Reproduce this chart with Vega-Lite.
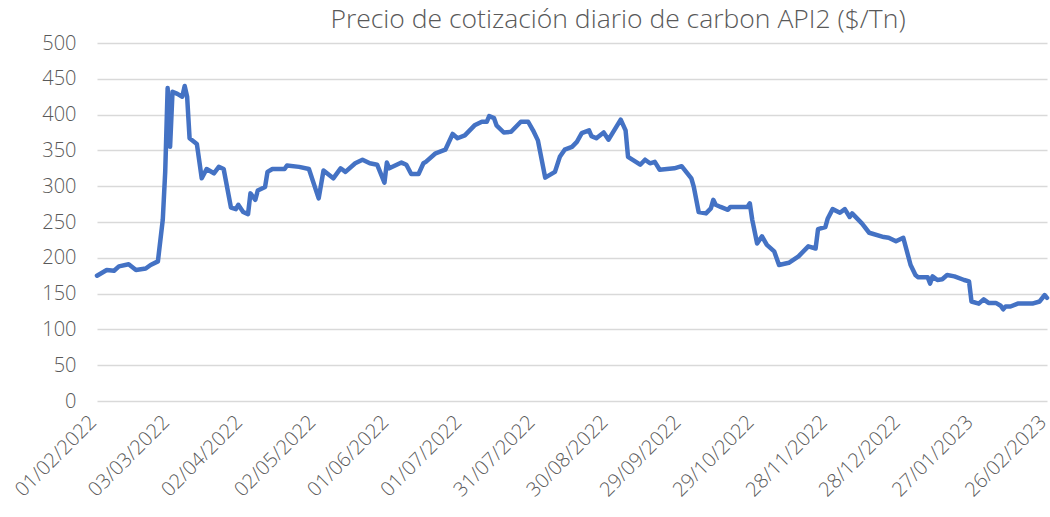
{
  "$schema": "https://vega.github.io/schema/vega-lite/v6.json",
  "width": 950,
  "height": 358,
  "autosize": {"type": "none"},
  "padding": {"left": 97, "top": 43, "right": 3, "bottom": 116},
  "background": "white",
  "title": {
    "text": "Precio de cotización diario de carbon API2 ($/Tn)",
    "fontSize": 26.5,
    "font": "Open Sans",
    "fontWeight": 300,
    "color": "#595959",
    "anchor": "middle",
    "dx": 46,
    "offset": 0
  },
  "data": {
    "values": [
      {"fecha": "2022-02-01", "precio": 175},
      {"fecha": "2022-02-05", "precio": 183},
      {"fecha": "2022-02-08", "precio": 182},
      {"fecha": "2022-02-10", "precio": 188},
      {"fecha": "2022-02-14", "precio": 191},
      {"fecha": "2022-02-17", "precio": 183},
      {"fecha": "2022-02-21", "precio": 185},
      {"fecha": "2022-02-23", "precio": 190},
      {"fecha": "2022-02-26", "precio": 195},
      {"fecha": "2022-02-28", "precio": 253},
      {"fecha": "2022-03-01", "precio": 320},
      {"fecha": "2022-03-02", "precio": 437},
      {"fecha": "2022-03-03", "precio": 355},
      {"fecha": "2022-03-04", "precio": 432},
      {"fecha": "2022-03-06", "precio": 429},
      {"fecha": "2022-03-08", "precio": 425},
      {"fecha": "2022-03-09", "precio": 440},
      {"fecha": "2022-03-10", "precio": 425},
      {"fecha": "2022-03-11", "precio": 367},
      {"fecha": "2022-03-14", "precio": 359},
      {"fecha": "2022-03-16", "precio": 311},
      {"fecha": "2022-03-18", "precio": 324},
      {"fecha": "2022-03-21", "precio": 318},
      {"fecha": "2022-03-23", "precio": 327},
      {"fecha": "2022-03-25", "precio": 324},
      {"fecha": "2022-03-28", "precio": 270},
      {"fecha": "2022-03-30", "precio": 268},
      {"fecha": "2022-03-31", "precio": 274},
      {"fecha": "2022-04-02", "precio": 264},
      {"fecha": "2022-04-04", "precio": 261},
      {"fecha": "2022-04-05", "precio": 290},
      {"fecha": "2022-04-07", "precio": 281},
      {"fecha": "2022-04-08", "precio": 294},
      {"fecha": "2022-04-11", "precio": 299},
      {"fecha": "2022-04-12", "precio": 320},
      {"fecha": "2022-04-14", "precio": 324},
      {"fecha": "2022-04-19", "precio": 324},
      {"fecha": "2022-04-20", "precio": 329},
      {"fecha": "2022-04-25", "precio": 327},
      {"fecha": "2022-04-29", "precio": 324},
      {"fecha": "2022-05-03", "precio": 283},
      {"fecha": "2022-05-05", "precio": 322},
      {"fecha": "2022-05-09", "precio": 311},
      {"fecha": "2022-05-12", "precio": 325},
      {"fecha": "2022-05-14", "precio": 320},
      {"fecha": "2022-05-18", "precio": 332},
      {"fecha": "2022-05-21", "precio": 337},
      {"fecha": "2022-05-24", "precio": 332},
      {"fecha": "2022-05-27", "precio": 330},
      {"fecha": "2022-05-30", "precio": 305},
      {"fecha": "2022-05-31", "precio": 333},
      {"fecha": "2022-06-01", "precio": 325},
      {"fecha": "2022-06-06", "precio": 333},
      {"fecha": "2022-06-08", "precio": 330},
      {"fecha": "2022-06-10", "precio": 317},
      {"fecha": "2022-06-13", "precio": 317},
      {"fecha": "2022-06-15", "precio": 332},
      {"fecha": "2022-06-16", "precio": 334},
      {"fecha": "2022-06-20", "precio": 346},
      {"fecha": "2022-06-24", "precio": 351},
      {"fecha": "2022-06-27", "precio": 373},
      {"fecha": "2022-06-29", "precio": 367},
      {"fecha": "2022-07-02", "precio": 371},
      {"fecha": "2022-07-06", "precio": 385},
      {"fecha": "2022-07-09", "precio": 390},
      {"fecha": "2022-07-11", "precio": 390},
      {"fecha": "2022-07-12", "precio": 398},
      {"fecha": "2022-07-14", "precio": 395},
      {"fecha": "2022-07-15", "precio": 385},
      {"fecha": "2022-07-18", "precio": 375},
      {"fecha": "2022-07-21", "precio": 376},
      {"fecha": "2022-07-25", "precio": 390},
      {"fecha": "2022-07-28", "precio": 390},
      {"fecha": "2022-07-30", "precio": 378},
      {"fecha": "2022-08-01", "precio": 364},
      {"fecha": "2022-08-04", "precio": 312},
      {"fecha": "2022-08-08", "precio": 320},
      {"fecha": "2022-08-10", "precio": 341},
      {"fecha": "2022-08-12", "precio": 351},
      {"fecha": "2022-08-15", "precio": 355},
      {"fecha": "2022-08-17", "precio": 362},
      {"fecha": "2022-08-19", "precio": 374},
      {"fecha": "2022-08-22", "precio": 378},
      {"fecha": "2022-08-23", "precio": 370},
      {"fecha": "2022-08-25", "precio": 367},
      {"fecha": "2022-08-28", "precio": 375},
      {"fecha": "2022-08-30", "precio": 365},
      {"fecha": "2022-09-04", "precio": 393},
      {"fecha": "2022-09-06", "precio": 378},
      {"fecha": "2022-09-07", "precio": 341},
      {"fecha": "2022-09-12", "precio": 330},
      {"fecha": "2022-09-14", "precio": 337},
      {"fecha": "2022-09-16", "precio": 332},
      {"fecha": "2022-09-18", "precio": 334},
      {"fecha": "2022-09-20", "precio": 323},
      {"fecha": "2022-09-26", "precio": 325},
      {"fecha": "2022-09-29", "precio": 328},
      {"fecha": "2022-10-03", "precio": 311},
      {"fecha": "2022-10-04", "precio": 299},
      {"fecha": "2022-10-06", "precio": 264},
      {"fecha": "2022-10-09", "precio": 262},
      {"fecha": "2022-10-11", "precio": 269},
      {"fecha": "2022-10-12", "precio": 281},
      {"fecha": "2022-10-13", "precio": 274},
      {"fecha": "2022-10-15", "precio": 271},
      {"fecha": "2022-10-18", "precio": 267},
      {"fecha": "2022-10-19", "precio": 271},
      {"fecha": "2022-10-26", "precio": 271},
      {"fecha": "2022-10-27", "precio": 276},
      {"fecha": "2022-10-28", "precio": 253},
      {"fecha": "2022-10-30", "precio": 220},
      {"fecha": "2022-11-01", "precio": 230},
      {"fecha": "2022-11-03", "precio": 218},
      {"fecha": "2022-11-06", "precio": 209},
      {"fecha": "2022-11-08", "precio": 190},
      {"fecha": "2022-11-12", "precio": 193},
      {"fecha": "2022-11-16", "precio": 202},
      {"fecha": "2022-11-20", "precio": 216},
      {"fecha": "2022-11-23", "precio": 213},
      {"fecha": "2022-11-24", "precio": 240},
      {"fecha": "2022-11-27", "precio": 243},
      {"fecha": "2022-11-28", "precio": 255},
      {"fecha": "2022-11-30", "precio": 268},
      {"fecha": "2022-12-03", "precio": 263},
      {"fecha": "2022-12-05", "precio": 268},
      {"fecha": "2022-12-07", "precio": 257},
      {"fecha": "2022-12-08", "precio": 262},
      {"fecha": "2022-12-12", "precio": 248},
      {"fecha": "2022-12-15", "precio": 235},
      {"fecha": "2022-12-21", "precio": 229},
      {"fecha": "2022-12-23", "precio": 228},
      {"fecha": "2022-12-26", "precio": 223},
      {"fecha": "2022-12-29", "precio": 228},
      {"fecha": "2023-01-01", "precio": 190},
      {"fecha": "2023-01-03", "precio": 176},
      {"fecha": "2023-01-04", "precio": 173},
      {"fecha": "2023-01-08", "precio": 173},
      {"fecha": "2023-01-09", "precio": 164},
      {"fecha": "2023-01-10", "precio": 174},
      {"fecha": "2023-01-12", "precio": 169},
      {"fecha": "2023-01-14", "precio": 170},
      {"fecha": "2023-01-16", "precio": 176},
      {"fecha": "2023-01-19", "precio": 174},
      {"fecha": "2023-01-23", "precio": 169},
      {"fecha": "2023-01-25", "precio": 167},
      {"fecha": "2023-01-26", "precio": 139},
      {"fecha": "2023-01-29", "precio": 136},
      {"fecha": "2023-01-31", "precio": 142},
      {"fecha": "2023-02-02", "precio": 137},
      {"fecha": "2023-02-05", "precio": 137},
      {"fecha": "2023-02-07", "precio": 133},
      {"fecha": "2023-02-08", "precio": 128},
      {"fecha": "2023-02-09", "precio": 132},
      {"fecha": "2023-02-11", "precio": 132},
      {"fecha": "2023-02-14", "precio": 136},
      {"fecha": "2023-02-20", "precio": 136},
      {"fecha": "2023-02-23", "precio": 139},
      {"fecha": "2023-02-25", "precio": 148},
      {"fecha": "2023-02-26", "precio": 144}
    ]
  },
  "mark": {
    "type": "line",
    "color": "#4472C4",
    "strokeWidth": 4.5,
    "strokeJoin": "round",
    "strokeCap": "round"
  },
  "encoding": {
    "x": {
      "field": "fecha",
      "type": "temporal",
      "title": null,
      "scale": {
        "type": "utc",
        "domain": [
          {"year": 2022, "month": 2, "date": 1, "utc": true},
          {"year": 2023, "month": 2, "date": 26, "utc": true}
        ],
        "nice": false
      },
      "axis": {
        "values": [
          {"year": 2022, "month": 2, "date": 1, "utc": true},
          {"year": 2022, "month": 3, "date": 3, "utc": true},
          {"year": 2022, "month": 4, "date": 2, "utc": true},
          {"year": 2022, "month": 5, "date": 2, "utc": true},
          {"year": 2022, "month": 6, "date": 1, "utc": true},
          {"year": 2022, "month": 7, "date": 1, "utc": true},
          {"year": 2022, "month": 7, "date": 31, "utc": true},
          {"year": 2022, "month": 8, "date": 30, "utc": true},
          {"year": 2022, "month": 9, "date": 29, "utc": true},
          {"year": 2022, "month": 10, "date": 29, "utc": true},
          {"year": 2022, "month": 11, "date": 28, "utc": true},
          {"year": 2022, "month": 12, "date": 28, "utc": true},
          {"year": 2023, "month": 1, "date": 27, "utc": true},
          {"year": 2023, "month": 2, "date": 26, "utc": true}
        ],
        "labelExpr": "utcFormat(datum.value, '%d/%m/%Y')",
        "labelAngle": -45,
        "labelAlign": "right",
        "labelBaseline": "alphabetic",
        "labelPadding": 22,
        "labelFontSize": 20,
        "labelFont": "Open Sans",
        "labelFontWeight": 300,
        "labelColor": "#595959",
        "labelOverlap": false,
        "labelBound": false,
        "labelFlush": false,
        "ticks": false,
        "domain": false,
        "grid": false
      }
    },
    "y": {
      "field": "precio",
      "type": "quantitative",
      "title": null,
      "scale": {"domain": [0, 500], "nice": false, "zero": true},
      "axis": {
        "values": [0, 50, 100, 150, 200, 250, 300, 350, 400, 450, 500],
        "labelFontSize": 20,
        "labelFont": "Open Sans",
        "labelFontWeight": 300,
        "labelColor": "#595959",
        "labelPadding": 21,
        "ticks": false,
        "domain": false,
        "grid": true,
        "gridColor": "#D9D9D9",
        "gridWidth": 1.5
      }
    }
  },
  "config": {
    "view": {"stroke": null}
  }
}
